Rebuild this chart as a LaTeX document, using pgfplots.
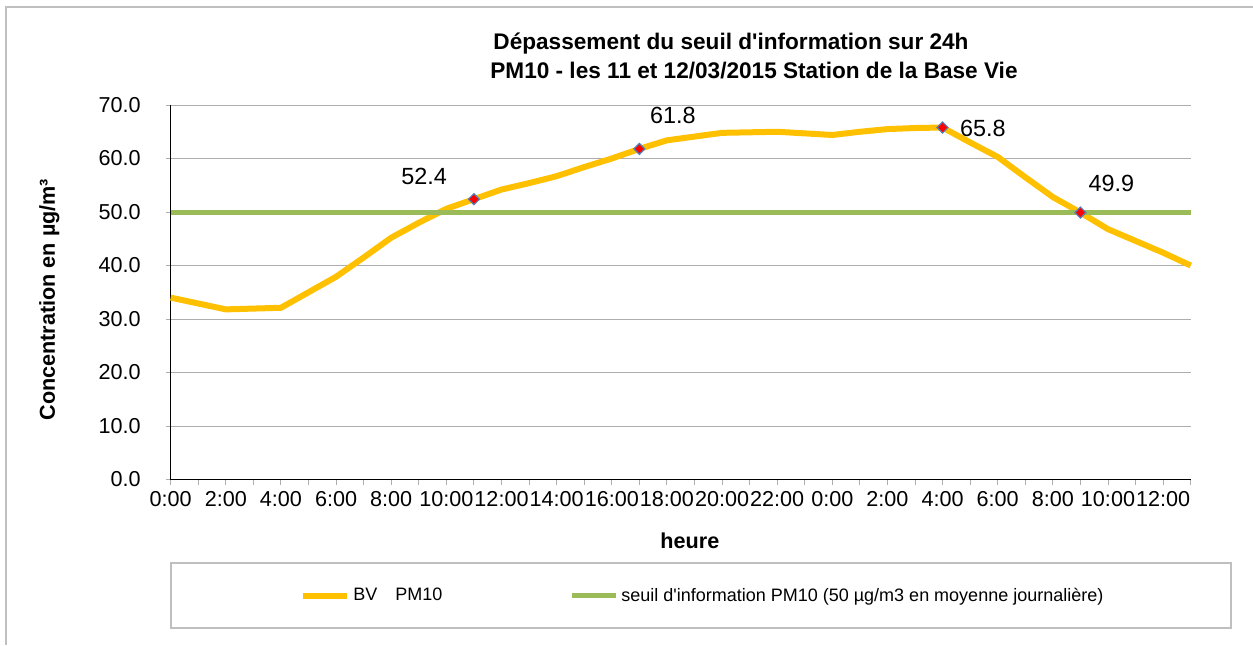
\documentclass[border=0pt]{standalone}
\usepackage{pgfplots}
\pgfplotsset{compat=1.18}
\usepackage{fontspec}
\setmainfont{Liberation Sans}[Ligatures=TeXOff]
\definecolor{pmyellow}{HTML}{FFC000}
\definecolor{pmgreen}{HTML}{9BBB59}
\definecolor{mkblue}{HTML}{4F81BD}
\definecolor{gridgray}{HTML}{ADADAD}
\definecolor{framegray}{HTML}{BFBFBF}
\begin{document}
\begin{tikzpicture}
\useasboundingbox (0,0) rectangle (626.5pt,322.5pt);
% outer chart frame
\draw[framegray, line width=0.8pt] (3pt,0pt) -- (3pt,319pt) -- (626.5pt,319pt);
% legend frame
\draw[framegray, line width=0.6pt] (85.5pt,8.5pt) rectangle (615.5pt,41pt);
% title
\node[font=\fontsize{11.3}{13}\selectfont\bfseries] at (365.5pt,300.5pt) {Dépassement du seuil d'information sur 24h};
\node[font=\fontsize{11.3}{13}\selectfont\bfseries] at (377pt,287pt) {PM10 - les 11 et 12/03/2015 Station de la Base Vie};
\begin{axis}[
  at={(85.35pt,82.75pt)}, anchor=south west,
  scale only axis, width=510pt, height=187.25pt,
  xmin=0, xmax=37, ymin=0, ymax=70,
  clip=false,
  axis x line*=bottom, axis y line*=left,
  axis line style={black, line width=0.6pt},
  tick align=outside, major tick length=2.5pt, minor tick length=2.5pt,
  tick style={gridgray, line width=0.5pt},
  ytick={0,10,20,30,40,50,60,70},
  yticklabels={0.0,10.0,20.0,30.0,40.0,50.0,60.0,70.0},
  xtick={0,2,...,36},
  minor xtick={1,3,...,37},
  xticklabels={0:00,2:00,4:00,6:00,8:00,10:00,12:00,14:00,16:00,18:00,20:00,22:00,0:00,2:00,4:00,6:00,8:00,10:00,12:00},
  ymajorgrids, major grid style={gridgray, line width=0.5pt},
  tick label style={font=\fontsize{10.8}{12}\selectfont},
  yticklabel style={xshift=-9pt},
  xlabel={heure}, ylabel={Concentration en µg/m³},
  every axis x label/.style={at={(axis description cs:0.509,-0.164)}, anchor=center,
    font=\fontsize{10.8}{12}\selectfont\bfseries},
  every axis y label/.style={at={(axis description cs:-0.119,0.48)}, rotate=90, anchor=center,
    font=\fontsize{10.8}{12}\selectfont\bfseries},
  legend columns=2,
  legend style={at={(axis description cs:0.1208,-0.311)}, anchor=west, draw=none, fill=none,
    font=\fontsize{9}{11}\selectfont, nodes={inner xsep=1.5pt},
    /tikz/every even column/.append style={column sep=62pt}},
  legend image code/.code={\draw[#1] (0pt,0pt) -- (22pt,0pt);},
]
\addplot[pmyellow, line width=3pt, line join=round] coordinates {
(0,34.0) (1,32.9) (2,31.8) (3,31.95) (4,32.1) (5,35.0) (6,37.9) (7,41.5)
(8,45.2) (9,48.0) (10,50.6) (11,52.4) (12,54.2) (13,55.4) (14,56.7) (15,58.4)
(16,60.0) (17,61.8) (18,63.4) (19,64.1) (20,64.8) (21,64.9) (22,65.0) (23,64.7)
(24,64.4) (25,65.0) (26,65.5) (27,65.7) (28,65.8) (29,63.0) (30,60.3) (31,56.5)
(32,52.8) (33,49.9) (34,46.8) (35,44.6) (36,42.4) (37,40.0)};
\addlegendentry{BV\hspace{9pt}PM10}
\addplot[forget plot, only marks, mark=square*, mark size=1.95pt,
  mark options={rotate=45, fill=red, draw=mkblue, line width=0.6pt}] coordinates {
(11,52.4) (17,61.8) (28,65.8) (33,49.9)};
\addplot[pmgreen, line width=2.5pt] coordinates {(0,50) (37,50)};
\addlegendentry{seuil d'information PM10 (50 µg/m3 en moyenne journalière)}
\node[font=\fontsize{11.7}{13}\selectfont] at (axis cs:9.19,56.7) {52.4};
\node[font=\fontsize{11.7}{13}\selectfont] at (axis cs:18.22,68.1) {61.8};
\node[font=\fontsize{11.7}{13}\selectfont] at (axis cs:29.46,65.6) {65.8};
\node[font=\fontsize{11.7}{13}\selectfont] at (axis cs:34.12,55.4) {49.9};
\end{axis}
\end{tikzpicture}
\end{document}
